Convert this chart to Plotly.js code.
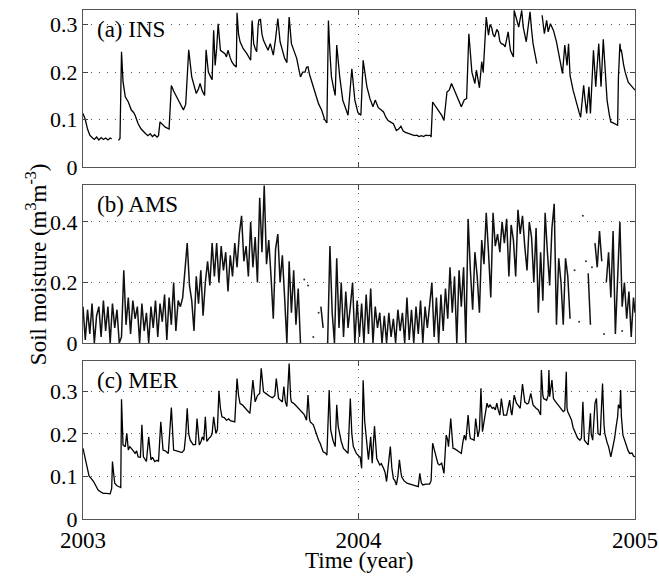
<!DOCTYPE html>
<html><head><meta charset="utf-8">
<script src="https://cdn.plot.ly/plotly-3.0.1.min.js"></script>
<style>html,body{margin:0;padding:0;background:#fff}#chart{width:659px;height:577px}</style>
</head><body><div id="chart"></div>
<script>
// Days since 2003-01-01
const insDays = [0,3,6,9,12,15,18,21,24,27,30,33,36,38,39,47,49,51,53,56,60,64,67,69,73,77,80,83,86,89,92,95,98,100,102,105,109,114,117,120,124,128,133,136,138,140,144,147,150,153,155,158,161,163,166,169,171,173,175,177,179,182,185,188,190,192,195,197,200,203,204,206,208,212,217,220,222,224,226,228,230,232,233,235,237,239,242,245,248,250,252,255,258,261,264,267,270,273,276,280,283,286,288,291,294,296,298,300,303,306,309,312,316,320,323,325,327,329,332,334,336,338,340,344,348,351,356,358,360,364,368,371,374,376,380,384,387,391,395,398,401,404,408,411,415,418,421,424,427,430,433,436,439,442,445,448,451,454,457,460,461,463,465,468,471,475,478,482,485,488,491,495,498,501,505,508,511,513,515,519,521,525,528,530,532,534,537,539,541,543,545,548,550,552,554,557,559,563,566,570,571,574,577,581,583,587,590,592,594,596,599,601,602,608,611,614,616,619,623,627,630,632,635,638,641,643,645,649,654,657,659,663,665,667,670,672,676,679,683,686,689,692,694,697,699,702,705,708,709,711,712,713,716,718,722,727,731];
const insVals = [0.113,0.10,0.08,0.067,0.062,0.058,0.063,0.057,0.062,0.058,0.061,0.057,0.061,0.059,null,0.056,0.06,0.243,0.18,0.148,0.137,0.12,0.115,0.109,0.091,0.08,0.074,0.07,0.066,0.07,0.064,0.068,0.063,0.066,0.095,0.09,0.084,0.08,0.172,0.16,0.148,0.135,0.12,0.132,0.19,0.247,0.19,0.17,0.155,0.165,0.176,0.16,0.151,0.247,0.2,0.19,0.184,0.288,0.214,0.25,0.302,0.246,0.242,0.239,0.232,0.246,0.23,0.222,0.215,0.211,0.325,0.28,0.264,0.25,0.239,0.23,0.225,0.309,0.26,0.25,0.243,0.3,0.31,0.311,0.28,0.267,0.255,0.246,0.26,0.245,0.236,0.27,0.313,0.264,0.245,0.229,0.22,0.316,0.26,0.24,0.229,0.205,0.19,0.2,0.2,0.21,0.211,0.195,0.179,0.16,0.148,0.133,0.12,0.1,0.093,0.309,0.24,0.19,0.165,0.151,0.257,0.22,0.19,0.141,0.12,0.109,0.207,0.17,0.141,0.115,0.109,0.225,0.185,0.169,0.144,0.127,0.141,0.125,0.12,0.116,0.105,0.098,0.094,0.091,0.077,0.08,0.086,0.076,0.073,0.071,0.07,0.068,0.066,0.067,0.064,0.066,0.064,0.067,0.066,0.067,0.063,0.137,0.132,0.127,0.118,0.109,0.098,0.158,0.162,0.176,0.165,0.151,0.138,0.127,0.142,0.144,0.281,0.23,0.2,0.176,0.204,0.167,0.222,0.2,0.271,0.316,0.278,0.3,0.295,0.28,0.274,0.29,0.285,0.265,0.26,0.258,0.253,0.285,0.246,0.232,0.33,0.309,0.295,0.33,0.295,0.264,0.3,0.327,0.29,0.26,0.235,0.218,null,0.32,0.281,0.309,0.285,0.302,0.288,0.264,0.24,0.225,0.197,0.257,0.214,0.26,0.193,0.162,0.13,0.115,0.105,0.172,0.14,0.113,0.169,0.113,0.246,0.169,0.26,0.169,0.269,0.2,0.141,0.11,0.095,0.093,0.091,0.088,0.186,0.26,0.245,0.246,0.215,0.2,0.179,0.169,0.162];

const amsDays = [0,3,6,9,12,15,18,21,24,27,30,33,36,39,42,45,48,51,54,57,60,63,66,69,72,75,78,81,84,87,90,93,96,99,102,105,108,111,114,117,120,123,126,129,132,135,138,141,144,147,150,153,156,159,162,165,168,171,174,177,180,183,186,189,192,195,198,201,204,207,210,213,216,219,222,225,228,231,234,237,240,243,246,249,252,255,258,261,264,267,270,273,276,279,282,285,288,291,315,318,321,324,327,330,333,336,339,342,345,348,351,354,357,360,363,366,369,372,375,378,381,384,387,390,393,396,399,402,405,408,411,414,417,420,423,426,429,432,435,438,441,444,447,450,453,456,459,462,465,468,471,474,477,480,483,486,489,492,495,498,501,504,507,510,513,516,519,522,525,528,531,534,537,540,543,546,549,552,555,558,561,564,567,570,573,576,579,582,585,588,591,594,597,600,603,606,609,612,615,618,621,624,627,630,633,636,639,642,645,648,669,672,675,678,681,684,687,690,693,696,699,702,705,708,711,714,717,720,723,726,729,731];
const amsVals = [0.12,0.01,0.11,0.03,0.13,0.0,0.09,0.12,0.02,0.14,0.04,0.12,0.0,0.13,0.05,0.11,0.0,0.02,0.24,0.06,0.15,0.03,0.14,0.08,0.12,0.0,0.13,0.04,0.1,0.0,0.12,0.05,0.14,0.02,0.13,0.07,0.16,0.01,0.15,0.06,0.2,0.04,0.14,0.12,0.15,0.25,0.33,0.19,0.14,0.04,0.22,0.13,0.24,0.09,0.2,0.27,0.19,0.33,0.22,0.33,0.2,0.32,0.24,0.3,0.17,0.29,0.22,0.33,0.25,0.36,0.42,0.27,0.32,0.22,0.4,0.25,0.35,0.2,0.48,0.3,0.52,0.26,0.34,0.22,0.08,0.31,0.36,0.2,0.29,0.15,0.0,0.27,0.1,0.24,0.06,0.18,0.0,null,0.12,0.05,null,0.0,0.32,0.1,0.0,0.28,0.05,0.2,0.02,0.17,0.05,0.12,0.2,0.0,0.14,0.02,0.13,0.0,0.16,0.03,0.18,0.0,0.12,0.05,0.1,0.0,0.09,0.0,0.1,0.02,0.08,0.0,0.11,0.04,0.1,0.0,0.15,0.01,0.11,0.0,0.12,0.03,0.14,0.0,0.12,0.05,0.13,0.2,0.02,0.15,0.0,0.16,0.04,0.18,0.08,0.25,0.1,0.22,0.0,0.24,0.12,0.25,0.0,0.41,0.24,0.11,0.3,0.22,0.1,0.34,0.26,0.43,0.3,0.15,0.43,0.32,0.36,0.3,0.4,0.33,0.41,0.22,0.39,0.34,0.22,0.44,0.36,0.42,0.32,0.24,0.4,0.35,0.2,0.38,0.1,0.3,0.14,0.43,0.3,0.19,0.38,0.46,0.06,0.28,0.2,0.06,0.28,0.22,0.08,null,0.23,0.06,null,0.33,0.25,0.37,0.27,null,0.2,0.3,0.15,0.37,0.03,0.2,0.4,0.12,0.2,0.08,0.17,0.02,0.15,0.1];
const amsDotDays = [293,298,305,312,651,657,662,666,674,690,714];
const amsDotVals = [0.21,0.19,0.02,0.1,0.24,0.07,0.42,0.27,0.25,0.03,0.04];

const merDays = [0,2,5,8,11,14,17,20,24,27,31,36,38,39,41,42,45,47,50,51,53,56,58,60,62,64,67,69,71,73,76,78,80,82,84,87,90,92,95,98,100,103,106,109,113,117,120,124,128,131,134,136,138,140,142,146,149,151,154,156,158,160,162,164,167,169,171,173,176,178,180,182,184,187,190,193,195,198,201,204,206,208,211,215,218,221,225,227,228,231,234,236,238,239,242,245,248,251,254,256,258,259,262,264,266,268,270,273,275,276,280,283,287,290,293,296,298,300,301,305,307,309,312,314,316,318,321,323,326,328,331,334,336,338,342,345,347,351,354,356,358,360,362,365,367,369,371,373,375,378,381,383,386,388,389,393,395,398,400,402,405,407,409,411,413,415,417,419,421,422,425,429,433,437,441,444,446,448,450,454,459,461,463,466,468,470,472,475,478,481,483,484,487,489,490,493,495,498,501,503,505,507,510,512,513,516,518,520,522,523,525,527,529,532,535,537,539,542,544,546,548,550,552,554,556,557,561,565,567,568,571,573,574,577,579,582,584,585,588,590,593,595,596,600,603,606,607,609,610,614,616,617,618,621,622,623,626,629,632,636,638,640,641,642,645,647,649,651,655,658,660,662,663,664,667,669,672,673,675,678,680,681,682,685,688,690,691,694,696,699,702,704,706,708,709,711,712,713,715,718,720,722,724,727,729,731];
const merVals = [0.166,0.15,0.131,0.101,0.095,0.088,0.078,0.068,0.063,0.06,0.06,0.059,0.072,0.135,0.1,0.084,0.078,0.076,0.074,0.281,0.174,0.17,0.201,0.162,0.17,0.166,0.16,0.154,0.16,0.146,0.145,0.221,0.146,0.14,0.135,0.193,0.139,0.145,0.135,0.138,0.135,0.228,0.162,0.16,0.154,0.262,0.162,0.16,0.158,0.156,0.162,0.197,0.26,0.2,0.185,0.174,0.175,0.236,0.174,0.18,0.193,0.185,0.24,0.182,0.19,0.193,0.2,0.24,0.201,0.21,0.301,0.26,0.24,0.238,0.232,0.235,0.231,0.23,0.228,0.33,0.29,0.271,0.268,0.26,0.255,0.248,0.326,0.285,0.275,0.29,0.295,0.354,0.31,0.299,0.295,0.29,0.287,0.285,0.29,0.33,0.29,0.283,0.278,0.275,0.311,0.275,0.264,0.365,0.285,0.275,0.27,0.264,0.258,0.252,0.245,0.232,0.291,0.235,0.228,0.221,0.21,0.197,0.185,0.178,0.17,0.158,0.155,0.15,0.303,0.209,0.185,0.17,0.268,0.217,0.182,0.165,0.162,0.154,0.283,0.2,0.17,0.16,0.154,0.148,0.146,0.119,0.326,0.23,0.193,0.139,0.193,0.131,0.218,0.15,0.142,0.127,0.13,0.119,0.11,0.088,0.13,0.17,0.12,0.095,0.09,0.08,0.1,0.139,0.11,0.099,0.09,0.084,0.082,0.08,0.078,0.076,0.107,0.085,0.08,0.082,0.082,0.09,0.178,0.16,0.146,0.13,0.127,0.131,0.107,0.197,0.185,0.17,0.236,0.18,0.166,0.164,0.162,0.158,0.154,0.18,0.197,0.185,0.244,0.2,0.189,0.187,0.185,0.236,0.2,0.193,0.21,0.307,0.205,0.24,0.272,0.262,0.268,0.26,0.262,0.256,0.272,0.255,0.244,0.283,0.25,0.244,0.244,0.279,0.25,0.244,0.291,0.275,0.272,0.265,0.26,0.317,0.28,0.275,0.27,0.272,0.295,0.27,0.268,0.26,0.256,0.244,0.35,0.29,0.283,0.279,0.29,0.35,0.287,0.326,0.29,0.283,0.275,0.268,0.262,0.252,0.255,0.346,0.26,0.252,0.24,0.232,0.215,0.205,0.19,0.185,0.19,0.275,0.2,0.185,0.178,0.174,0.248,0.2,0.185,0.272,0.283,0.22,0.201,0.197,0.318,0.22,0.201,0.18,0.17,0.146,0.17,0.19,0.217,0.24,0.268,0.26,0.303,0.24,0.197,0.18,0.17,0.16,0.154,0.155,0.148,0.146];

const xTickVals = [0, 365, 731];
const xTickText = ['2003', '2004', '2005'];
const insTickVals = [0, 0.1, 0.2, 0.3];
const insTickText = ['0', '0.1', '0.2', '0.3'];
const amsTickVals = [0, 0.2, 0.4];
const amsTickText = ['0', '0.2', '0.4'];
const merTickVals = [0, 0.1, 0.2, 0.3];
const merTickText = ['0', '0.1', '0.2', '0.3'];
const panelLabels = ['(a) INS', '(b) AMS', '(c) MER'];

const FONT = '"Liberation Serif", "Times New Roman", serif';
const lineStyle = {color: '#000', width: 1.3};

const traces = [
  {x: insDays, y: insVals, type: 'scatter', mode: 'lines', line: lineStyle, xaxis: 'x', yaxis: 'y', hoverinfo: 'skip'},
  {x: amsDays, y: amsVals, type: 'scatter', mode: 'lines', line: {color: '#111', width: 1.5}, xaxis: 'x2', yaxis: 'y2', hoverinfo: 'skip'},
  {x: amsDotDays, y: amsDotVals, type: 'scatter', mode: 'markers', marker: {color: '#333', size: 2}, xaxis: 'x2', yaxis: 'y2', hoverinfo: 'skip'},
  {x: merDays, y: merVals, type: 'scatter', mode: 'lines', line: lineStyle, xaxis: 'x3', yaxis: 'y3', hoverinfo: 'skip'}
];

const gridDash = '1px,7px';
function xAx(anchor, showLabels) {
  return {
    anchor: anchor, range: [0, 731], tickmode: 'array', tickvals: xTickVals, ticktext: xTickText,
    showticklabels: showLabels, ticks: 'inside', ticklen: 5, tickcolor: '#444',
    showline: true, linecolor: '#555', linewidth: 1, mirror: 'ticks',
    showgrid: true, gridcolor: '#555', griddash: gridDash, gridwidth: 1, zeroline: false,
    tickfont: {family: FONT, size: 23, color: '#000'}
  };
}
function yAx(domain, range, tv, tt) {
  return {
    domain: domain, range: range, tickmode: 'array', tickvals: tv, ticktext: tt,
    ticks: 'inside', ticklen: 5, tickcolor: '#444',
    showline: true, linecolor: '#555', linewidth: 1, mirror: 'ticks',
    showgrid: true, gridcolor: '#555', griddash: gridDash, gridwidth: 1, zeroline: false,
    tickfont: {family: FONT, size: 22, color: '#000'}
  };
}

const layout = {
  width: 659, height: 577,
  margin: {l: 83, r: 24, t: 10, b: 58},
  paper_bgcolor: '#fff', plot_bgcolor: '#fff',
  showlegend: false,
  font: {family: FONT, color: '#000'},
  xaxis: xAx('y', false),
  xaxis2: xAx('y2', false),
  xaxis3: xAx('y3', true),
  yaxis: yAx([0.6916, 1], [0, 0.331], insTickVals, insTickText),
  yaxis2: yAx([0.3458, 0.6562], [0, 0.522], amsTickVals, amsTickText),
  yaxis3: yAx([0, 0.3104], [0, 0.371], merTickVals, merTickText),
  annotations: [
    {text: panelLabels[0], xref: 'paper', yref: 'paper', x: 0.022, y: 0.961, xanchor: 'left', yanchor: 'middle', showarrow: false, font: {family: FONT, size: 23, color: '#000'}},
    {text: panelLabels[1], xref: 'paper', yref: 'paper', x: 0.022, y: 0.617, xanchor: 'left', yanchor: 'middle', showarrow: false, font: {family: FONT, size: 23, color: '#000'}},
    {text: panelLabels[2], xref: 'paper', yref: 'paper', x: 0.022, y: 0.273, xanchor: 'left', yanchor: 'middle', showarrow: false, font: {family: FONT, size: 23, color: '#000'}},
    {text: 'Time (year)', xref: 'paper', yref: 'paper', x: 0.5, y: -0.081, xanchor: 'center', yanchor: 'middle', showarrow: false, font: {family: FONT, size: 23, color: '#000'}},
    {text: 'Soil moisture (m<sup>3</sup>m<sup>-3</sup>)', xref: 'paper', yref: 'paper', x: -0.084, y: 0.5, xanchor: 'center', yanchor: 'middle', textangle: -90, showarrow: false, font: {family: FONT, size: 23, color: '#000'}}
  ]
};

Plotly.newPlot('chart', traces, layout, {staticPlot: true, displayModeBar: false});
</script>
</body></html>
